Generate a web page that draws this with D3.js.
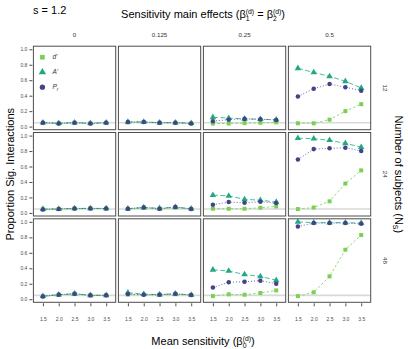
<!DOCTYPE html>
<html>
<head>
<meta charset="utf-8">
<script src="https://cdn.jsdelivr.net/npm/d3@7"></script>
<style>
  body { margin: 0; background: #fff; }
  svg { font-family: "Liberation Sans", Arial, sans-serif; }
</style>
</head>
<body>
<div id="container"></div>
<script>
var width = 408,
    height = 349;

// facet labels
var effects = ["0", "0.125", "0.25", "0.5"];
var subjects = ["12", "24", "48"];
var meanSens = [1.5, 2.0, 2.5, 3.0, 3.5];
var yTicks = [0, 0.2, 0.4, 0.6, 0.8, 1.0];

// proportion of significant interactions, [subjects row][effect col][mean sensitivity]
var dPrime = [
    [[0.05, 0.04, 0.05, 0.04, 0.05], [0.055, 0.06, 0.05, 0.05, 0.04], [0.04, 0.04, 0.045, 0.05, 0.055], [0.043, 0.043, 0.09, 0.20, 0.29]],
    [[0.045, 0.05, 0.055, 0.06, 0.055], [0.05, 0.065, 0.05, 0.07, 0.05], [0.054, 0.054, 0.054, 0.067, 0.084], [0.05, 0.07, 0.15, 0.38, 0.55]],
    [[0.036, 0.058, 0.07, 0.05, 0.05], [0.06, 0.058, 0.058, 0.065, 0.053], [0.04, 0.063, 0.058, 0.08, 0.114], [0.04, 0.09, 0.295, 0.64, 0.83]]
];
var aPrime = [
    [[0.05, 0.045, 0.05, 0.045, 0.05], [0.06, 0.06, 0.05, 0.05, 0.045], [0.12, 0.11, 0.10, 0.095, 0.09], [0.754, 0.70, 0.65, 0.586, 0.50]],
    [[0.05, 0.05, 0.058, 0.058, 0.058], [0.055, 0.07, 0.06, 0.075, 0.055], [0.23, 0.22, 0.175, 0.165, 0.14], [0.967, 0.96, 0.94, 0.90, 0.85]],
    [[0.04, 0.058, 0.07, 0.05, 0.05], [0.084, 0.065, 0.06, 0.07, 0.055], [0.38, 0.365, 0.32, 0.295, 0.245], [1.0, 0.99, 0.99, 0.99, 0.985]]
];
var pR = [
    [[0.05, 0.04, 0.05, 0.04, 0.05], [0.06, 0.06, 0.05, 0.05, 0.04], [0.07, 0.09, 0.10, 0.095, 0.085], [0.39, 0.49, 0.55, 0.51, 0.465]],
    [[0.045, 0.05, 0.058, 0.058, 0.058], [0.055, 0.07, 0.055, 0.075, 0.05], [0.105, 0.14, 0.13, 0.145, 0.127], [0.69, 0.825, 0.835, 0.843, 0.80]],
    [[0.036, 0.058, 0.07, 0.05, 0.05], [0.067, 0.058, 0.058, 0.07, 0.053], [0.15, 0.22, 0.226, 0.24, 0.20], [0.94, 0.985, 0.985, 0.985, 0.975]]
];
var refLevel = 0.05;

var measures = [
    {name: "d'", data: dPrime, color: "#7AD151", dash: "2.5,2", shape: d3.symbolSquare, size: 16},
    {name: "A'", data: aPrime, color: "#22A884", dash: "5,2.5", shape: d3.symbolTriangle, size: 18},
    {name: "P", sub: "r", data: pR, color: "#414487", dash: "1,2", shape: d3.symbolCircle, size: 16}
];

var svg = d3.select("#container")
    .append("svg")
    .attr("width", width)
    .attr("height", height);

var panelW = 82.3, panelH = 83.5, gapX = 2.7, gapY = 2.8;
var left0 = 33.4, top0 = 46.2;

var x = d3.scaleLinear().domain([1.2, 3.8]).range([0, panelW]);
var y = d3.scaleLinear().domain([-0.04, 1.04]).range([panelH, 0]);

var line = d3.line()
    .x(function (d, i) { return x(meanSens[i]); })
    .y(function (d) { return y(d); });

subjects.forEach(function (ns, r) {
    effects.forEach(function (eff, c) {
        var g = svg.append("g")
            .attr("transform", "translate(" + (left0 + c * (panelW + gapX)) + "," + (top0 + r * (panelH + gapY)) + ")");

        g.append("rect")
            .attr("width", panelW).attr("height", panelH)
            .attr("fill", "white");

        g.append("line")
            .attr("x1", 0).attr("x2", panelW)
            .attr("y1", y(refLevel)).attr("y2", y(refLevel))
            .attr("stroke", "#d9d9d9").attr("stroke-width", 1.6);

        measures.forEach(function (m) {
            var vals = m.data[r][c];
            g.append("path")
                .datum(vals)
                .attr("d", line)
                .attr("fill", "none")
                .attr("stroke", m.color)
                .attr("stroke-width", 0.8)
                .attr("stroke-dasharray", m.dash);
        });
        measures.forEach(function (m) {
            var vals = m.data[r][c];
            g.selectAll(null)
                .data(vals)
                .enter().append("path")
                .attr("d", d3.symbol().type(m.shape).size(m.size))
                .attr("transform", function (d, i) {
                    return "translate(" + x(meanSens[i]) + "," + y(d) + ")";
                })
                .attr("fill", m.color);
        });

        g.append("rect")
            .attr("width", panelW).attr("height", panelH)
            .attr("fill", "none")
            .attr("stroke", "#4d4d4d").attr("stroke-width", 1);

        // y axis on first column
        if (c == 0) {
            var ya = g.append("g")
                .attr("transform", "translate(-1,0)")
                .call(d3.axisLeft(y).tickValues(yTicks).tickFormat(d3.format(".1f")).tickSize(3).tickPadding(2));
            ya.select(".domain").remove();
            ya.selectAll("line").attr("stroke", "#4d4d4d");
            ya.selectAll("text").attr("font-size", 5).attr("fill", "#4d4d4d");
        }
        // x axis on bottom row
        if (r == subjects.length - 1) {
            var xa = g.append("g")
                .attr("transform", "translate(0," + (panelH + 1) + ")")
                .call(d3.axisBottom(x).tickValues(meanSens).tickFormat(d3.format(".1f")).tickSize(3).tickPadding(11));
            xa.select(".domain").remove();
            xa.selectAll("line").attr("stroke", "#4d4d4d");
            xa.selectAll("text").attr("font-size", 5).attr("fill", "#4d4d4d");
        }
        // strip labels
        if (r == 0) {
            g.append("text")
                .attr("x", panelW / 2).attr("y", -9.5)
                .attr("text-anchor", "middle")
                .attr("font-size", 6.2).attr("fill", "#333")
                .text(eff);
        }
        if (c == effects.length - 1) {
            g.append("text")
                .attr("transform", "translate(" + (panelW + 12) + "," + (panelH / 2) + ") rotate(90)")
                .attr("text-anchor", "middle")
                .attr("font-size", 6.2).attr("fill", "#333")
                .text(ns);
        }
        // legend in first panel
        if (r == 0 && c == 0) {
            measures.forEach(function (m, i) {
                var ly = 11 + i * 15;
                g.append("path")
                    .attr("d", d3.symbol().type(m.shape).size(m.size + 6))
                    .attr("transform", "translate(9," + ly + ")")
                    .attr("fill", m.color);
                var t = g.append("text")
                    .attr("x", 19).attr("y", ly + 2)
                    .attr("font-size", 6.5).attr("font-style", "italic").attr("fill", "#333")
                    .text(m.name);
                if (m.sub) {
                    t.append("tspan").attr("font-size", 4.5).attr("dy", 1.5).text(m.sub);
                }
            });
        }
    });
});

// titles
svg.append("text")
    .attr("x", 33).attr("y", 14)
    .attr("font-size", 11)
    .text("s = 1.2");

var topTitle = svg.append("text")
    .attr("x", 203).attr("y", 18)
    .attr("text-anchor", "middle")
    .attr("font-size", 11);
topTitle.append("tspan").text("Sensitivity main effects (β");
topTitle.append("tspan").attr("font-size", 6.8).attr("dy", 3).text("1");
topTitle.append("tspan").attr("font-size", 6.8).attr("dx", -3.8).attr("dy", -7).text("(d)");
topTitle.append("tspan").attr("dy", 4).text(" = β");
topTitle.append("tspan").attr("font-size", 6.8).attr("dy", 3).text("2");
topTitle.append("tspan").attr("font-size", 6.8).attr("dx", -3.8).attr("dy", -7).text("(d)");
topTitle.append("tspan").attr("dy", 4).text(")");

var xTitle = svg.append("text")
    .attr("x", 203).attr("y", 345)
    .attr("text-anchor", "middle")
    .attr("font-size", 11);
xTitle.append("tspan").text("Mean sensitivity (β");
xTitle.append("tspan").attr("font-size", 6.8).attr("dy", 3).text("0");
xTitle.append("tspan").attr("font-size", 6.8).attr("dx", -3.8).attr("dy", -7).text("(d)");
xTitle.append("tspan").attr("dy", 4).text(")");

svg.append("text")
    .attr("transform", "translate(14," + (top0 + 1.5 * panelH + gapY) + ") rotate(-90)")
    .attr("text-anchor", "middle")
    .attr("font-size", 11)
    .text("Proportion Sig. Interactions");

var rTitle = svg.append("text")
    .attr("transform", "translate(395," + (top0 + 1.5 * panelH + gapY) + ") rotate(90)")
    .attr("text-anchor", "middle")
    .attr("font-size", 11);
rTitle.append("tspan").text("Number of subjects (N");
rTitle.append("tspan").attr("font-size", 6.8).attr("dy", 2).text("S");
rTitle.append("tspan").attr("dy", -2).text(")");
</script>
</body>
</html>
